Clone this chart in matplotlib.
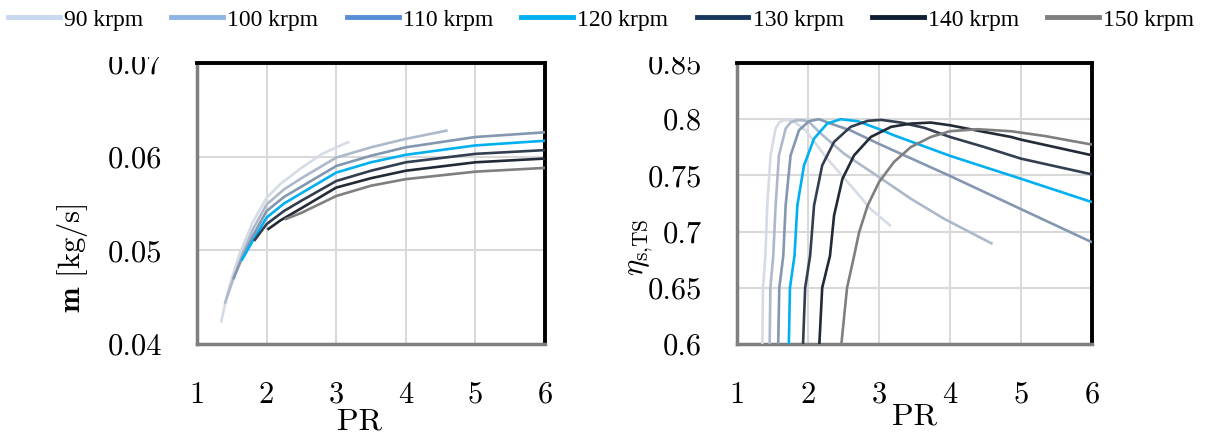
import matplotlib
matplotlib.use("Agg")
import matplotlib.pyplot as plt
from matplotlib.lines import Line2D
from matplotlib.patches import Rectangle
from matplotlib.ticker import FuncFormatter

plt.rcParams['font.family'] = 'serif'
plt.rcParams['font.serif'] = ['cmr10']
plt.rcParams['mathtext.fontset'] = 'cm'
plt.rcParams['axes.formatter.use_mathtext'] = True

# ---------------- data ----------------
speeds = ['90 krpm', '100 krpm', '110 krpm', '120 krpm', '130 krpm', '140 krpm', '150 krpm']

# mass flow vs PR
pr_m_90 = [1.345, 1.45, 1.6, 1.8, 2.0, 2.2, 2.5, 2.8, 3.0, 3.19]
m_90 = [0.0423, 0.0458, 0.0494, 0.0530, 0.0556, 0.0571, 0.0588, 0.0603, 0.0610, 0.0616]
pr_m_100 = [1.40, 1.5, 1.65, 1.8, 2.0, 2.25, 2.5, 3.0, 3.5, 4.0, 4.6]
m_100 = [0.0443, 0.0465, 0.0496, 0.0522, 0.0549, 0.0565, 0.0577, 0.0599, 0.0610, 0.0619, 0.0628]
pr_m_110 = [1.52, 1.65, 1.8, 2.0, 2.25, 2.5, 3.0, 3.5, 4.0, 5.0, 6.0]
m_110 = [0.0469, 0.0492, 0.0515, 0.0542, 0.0557, 0.0568, 0.0590, 0.0601, 0.0610, 0.0621, 0.0626]
pr_m_120 = [1.64, 1.8, 2.0, 2.25, 2.5, 3.0, 3.5, 4.0, 5.0, 6.0]
m_120 = [0.0489, 0.0510, 0.0535, 0.0550, 0.0561, 0.0583, 0.0594, 0.0602, 0.0612, 0.0617]
pr_m_130 = [1.82, 2.0, 2.25, 2.5, 3.0, 3.5, 4.0, 5.0, 6.0]
m_130 = [0.0510, 0.0528, 0.0542, 0.0553, 0.0574, 0.0585, 0.0594, 0.0603, 0.0607]
pr_m_140 = [2.01, 2.2, 2.5, 3.0, 3.5, 4.0, 5.0, 6.0]
m_140 = [0.0522, 0.0532, 0.0545, 0.0567, 0.0577, 0.0585, 0.0594, 0.0598]
pr_m_150 = [2.26, 2.5, 3.0, 3.5, 4.0, 5.0, 6.0]
m_150 = [0.0533, 0.0540, 0.0558, 0.0569, 0.0576, 0.0584, 0.0588]

# isentropic efficiency vs PR
pr_e_90 = [1.35, 1.357, 1.366, 1.40, 1.426, 1.473, 1.543, 1.60, 1.66, 1.73, 1.80, 1.967, 2.27, 2.60, 2.88, 3.17]
eff_90 = [0.59, 0.60, 0.65, 0.6786, 0.7232, 0.7679, 0.7917, 0.7975, 0.7991, 0.7992, 0.7982, 0.790, 0.7649, 0.7411, 0.7202, 0.7048]
pr_e_100 = [1.45, 1.46, 1.47, 1.511, 1.544, 1.591, 1.685, 1.76, 1.85, 1.93, 2.014, 2.18, 2.508, 3.0, 3.449, 3.92, 4.60]
eff_100 = [0.59, 0.60, 0.65, 0.6786, 0.7232, 0.7679, 0.7917, 0.7975, 0.7991, 0.7990, 0.7976, 0.7872, 0.7693, 0.7485, 0.7292, 0.7113, 0.689]
pr_e_110 = [1.57, 1.58, 1.596, 1.652, 1.685, 1.755, 1.873, 2.014, 2.155, 2.32, 2.6, 3.0, 4.0, 5.0, 6.0]
eff_110 = [0.59, 0.60, 0.65, 0.6786, 0.7232, 0.7679, 0.7902, 0.7982, 0.80, 0.7961, 0.790, 0.778, 0.7495, 0.72, 0.6905]
pr_e_120 = [1.72, 1.73, 1.746, 1.81, 1.85, 1.944, 2.085, 2.27, 2.46, 2.70, 2.98, 3.21, 4.0, 5.0, 6.0]
eff_120 = [0.59, 0.60, 0.65, 0.6786, 0.7232, 0.7589, 0.7827, 0.7961, 0.80, 0.7982, 0.7917, 0.7857, 0.7674, 0.747, 0.7262]
pr_e_130 = [1.92, 1.93, 1.96, 2.03, 2.085, 2.20, 2.367, 2.60, 2.84, 3.03, 3.31, 3.64, 4.0, 4.48, 5.0, 6.0]
eff_130 = [0.59, 0.60, 0.65, 0.6786, 0.7232, 0.7589, 0.7798, 0.7932, 0.7985, 0.7994, 0.797, 0.7923, 0.7842, 0.7753, 0.7649, 0.7509]
pr_e_140 = [2.14, 2.16, 2.20, 2.31, 2.367, 2.485, 2.65, 2.885, 3.17, 3.45, 3.73, 4.0, 4.48, 4.86, 5.0, 6.0]
eff_140 = [0.59, 0.60, 0.65, 0.6786, 0.7143, 0.747, 0.7679, 0.7842, 0.7932, 0.7961, 0.797, 0.7946, 0.7887, 0.7842, 0.7818, 0.7679]
pr_e_150 = [2.45, 2.47, 2.55, 2.65, 2.72, 2.84, 3.0, 3.21, 3.45, 3.73, 4.0, 4.39, 4.86, 5.33, 6.0]
eff_150 = [0.59, 0.60, 0.65, 0.6786, 0.6994, 0.7232, 0.744, 0.7619, 0.7753, 0.7842, 0.7893, 0.7911, 0.7893, 0.7851, 0.7774]

x_ticks = [1, 2, 3, 4, 5, 6]
m_ticks = [0.04, 0.05, 0.06, 0.07]
eff_ticks = [0.6, 0.65, 0.7, 0.75, 0.8, 0.85]

line_colors = ['#d6dce5', '#adb9ca', '#8497b0', '#00b0f0', '#333f50', '#222a35', '#7f7f7f']
legend_colors = ['#c6d9f1', '#8eb4e3', '#558ed5', '#00b0f0', '#17375e', '#0f1f33', '#7f7f7f']

mass_series = [(pr_m_90, m_90), (pr_m_100, m_100), (pr_m_110, m_110), (pr_m_120, m_120),
               (pr_m_130, m_130), (pr_m_140, m_140), (pr_m_150, m_150)]
eff_series = [(pr_e_90, eff_90), (pr_e_100, eff_100), (pr_e_110, eff_110), (pr_e_120, eff_120),
              (pr_e_130, eff_130), (pr_e_140, eff_140), (pr_e_150, eff_150)]

# ---------------- figure ----------------
W, H = 1211, 441
fig = plt.figure(figsize=(W / 100, H / 100), dpi=100)

ax1 = fig.add_axes([197 / W, 1 - 344 / H, 348 / W, 281 / H])
ax2 = fig.add_axes([737 / W, 1 - 344 / H, 355 / W, 281 / H])

fmt = FuncFormatter(lambda v, p: ('%g' % round(v, 4)))

for ax, series, yt, (y0, y1) in [(ax1, mass_series, m_ticks, (0.04, 0.07)),
                                  (ax2, eff_series, eff_ticks, (0.6, 0.85))]:
    for (xs, ys), c in zip(series, line_colors):
        ax.plot(xs, ys, color=c, lw=1.9, solid_capstyle='butt', solid_joinstyle='round', zorder=3)
    ax.set_xlim(1, 6)
    ax.set_ylim(y0, y1)
    ax.set_xticks(x_ticks)
    ax.set_yticks(yt)
    ax.xaxis.set_major_formatter(fmt)
    ax.yaxis.set_major_formatter(fmt)
    ax.grid(True, color='#d9d9d9', lw=1.5, zorder=1)
    ax.set_axisbelow(True)
    ax.tick_params(axis='both', length=0, labelsize=22)
    ax.tick_params(axis='x', pad=27)
    ax.tick_params(axis='y', pad=25)
    for s in ['left', 'bottom']:
        ax.spines[s].set_color('#7f7f7f')
        ax.spines[s].set_linewidth(2.5)
    for s in ['top', 'right']:
        ax.spines[s].set_color('black')
        ax.spines[s].set_linewidth(2.8)

ax1.set_xlabel('PR', fontsize=23)
ax1.xaxis.set_label_coords(0.466, -0.228)
ax2.set_xlabel('PR', fontsize=23)
ax2.xaxis.set_label_coords(0.5, -0.21)

ax1.set_ylabel(r'$\mathbf{m}$ [kg/s]', fontsize=22)
ax1.yaxis.set_label_coords(-0.307, 0.306)
ax2.set_ylabel(r'$\eta_{\mathrm{s{,}TS}}$', fontsize=22)
ax2.yaxis.set_label_coords(-0.231, 0.345)

# white band behind the legend (clips the top tick labels as in the reference)
fig.add_artist(Rectangle((0, 1 - 57 / H), 1, 57 / H, transform=fig.transFigure,
                         facecolor='white', edgecolor='none', zorder=5))

handles = [Line2D([0], [0], color=c, lw=3.5) for c in legend_colors]
leg = fig.legend(handles, speeds, loc='upper left', ncol=7, bbox_to_anchor=(8 / W, 1 - 9 / H),
                 frameon=False, prop={'family': 'Liberation Serif', 'size': 17},
                 handlelength=2.2, handletextpad=0.17, columnspacing=1.2,
                 borderpad=0, borderaxespad=0)
leg.set_zorder(10)

fig.savefig('out.png', dpi=100)
